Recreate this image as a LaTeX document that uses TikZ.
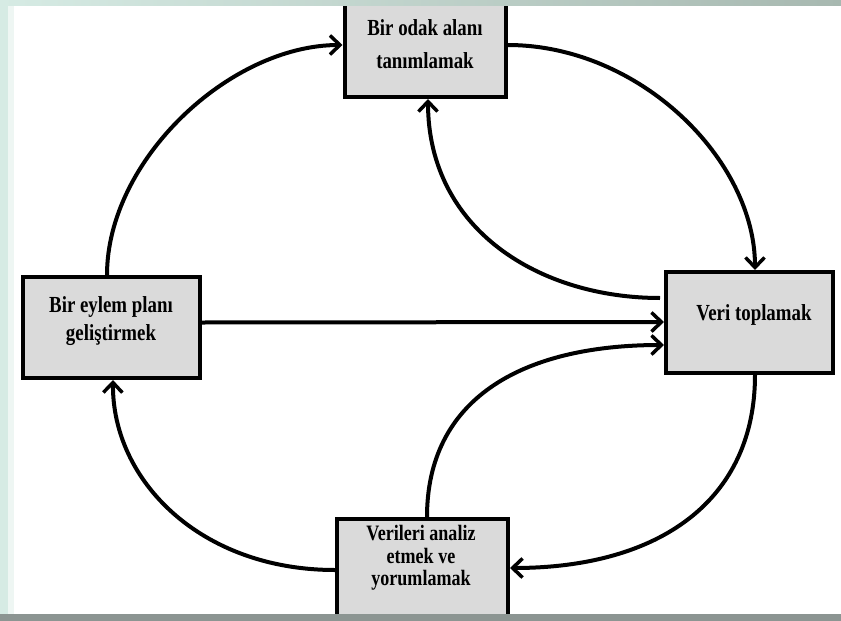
\documentclass[tikz,border=0pt]{standalone}
\usepackage{fontspec}
\setmainfont{Liberation Serif}[FakeStretch=0.82]
\usetikzlibrary{arrows.meta}
\definecolor{boxgray}{HTML}{DADADA}
\definecolor{mint}{HTML}{D6EBE4}
\definecolor{palemint}{HTML}{EEF6F3}
\definecolor{graygreen}{HTML}{A7B8B0}
\definecolor{bottomgray}{HTML}{8C9592}
\tikzset{
  stepbox/.style={draw=black, line width=4pt, fill=boxgray, inner sep=0pt},
  boxtext/.style={font=\fontsize{23}{23}\selectfont\bfseries, align=center, inner sep=0pt},
  flow/.style={line width=4pt, -{Straight Barb[length=10pt,width=19pt,line width=3.5pt]}}
}
\begin{document}
\begin{tikzpicture}[x=1pt,y=-1pt]
\useasboundingbox (0,0) rectangle (841,621);
\fill[white] (0,0) rectangle (841,621);

% boxes
\node[stepbox, minimum width=161pt, minimum height=94pt] (top) at (425,50) {};
\node[stepbox, minimum width=177pt, minimum height=101pt] (left) at (111.5,327.5) {};
\node[stepbox, minimum width=167pt, minimum height=101pt] (right) at (749.5,322.5) {};
\node[stepbox, minimum width=171pt, minimum height=106pt] (bot) at (422.5,572) {};

% texts
\node[boxtext, font=\fontsize{23}{33}\selectfont\bfseries] (toptext) at (425,44) {Bir odak alanı\\ tanımlamak};
\node[boxtext, font=\fontsize{23}{28}\selectfont\bfseries] (lefttext) at (111,321) {Bir eylem planı\\ geliştirmek};
\node[boxtext] (righttext) at (754,315) {Veri toplamak};
\node[boxtext, font=\fontsize{22}{22.5}\selectfont\bfseries] (bottext) at (421,558) {Verileri analiz\\ etmek ve\\ yorumlamak};

% connectors
\draw[flow] ([xshift=-4.5pt]left.north) .. controls (107,160) and (230,45) .. ([yshift=5pt]top.west);
\draw[flow] ([yshift=5pt]top.east) .. controls (640,45) and (755,160) .. ([xshift=5.5pt]right.north);
\draw[flow] ([xshift=-4pt,yshift=24.5pt]right.west) .. controls (540,298) and (428,230) .. ([xshift=3pt]top.south);
\draw[flow] ([yshift=5pt]left.east) -- ([yshift=0.5pt]right.west);
\draw[flow] ([xshift=4.5pt]bot.north) .. controls (427,400) and (520,345) .. ([yshift=-22.5pt]right.west);
\draw[flow] ([xshift=5.5pt]right.south) .. controls (755,500) and (660,568) .. ([yshift=4pt]bot.east);
\draw[flow] ([yshift=2pt]bot.west) .. controls (200,570) and (112,480) .. ([xshift=1.5pt]left.south);

% slide frame strips
\fill[palemint] (8,0) rectangle (14,614);
\fill[mint] (0,0) rectangle (8,621);
\shade[left color=mint, right color=graygreen] (0,0) rectangle (841,5);
\fill[bottomgray] (0,614) rectangle (841,621);
\end{tikzpicture}
\end{document}
